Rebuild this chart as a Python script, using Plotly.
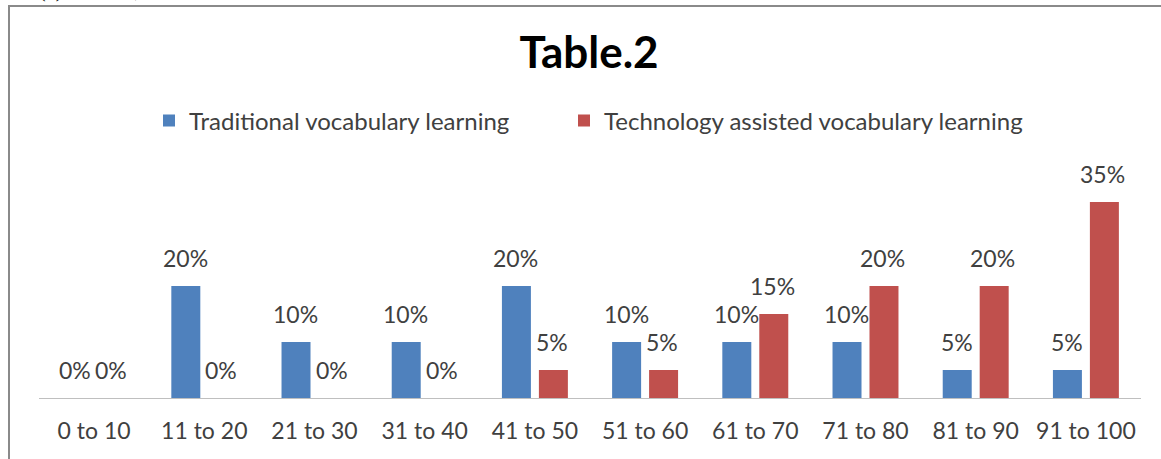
import plotly.graph_objects as go

categories = ["0 to 10", "11 to 20", "21 to 30", "31 to 40", "41 to 50",
              "51 to 60", "61 to 70", "71 to 80", "81 to 90", "91 to 100"]
traditional = [0, 20, 10, 10, 20, 10, 10, 10, 5, 5]
technology = [0, 0, 0, 0, 5, 5, 15, 20, 20, 35]
series_names = ["Traditional vocabulary learning", "Technology assisted vocabulary learning"]
title_text = "Table.2"
header_text = "12 5(7):226-232, 2020"

BLUE = "#4F81BD"
RED = "#C0504D"
TXT = "#404040"
FONT = "Lato"

W, H = 1161, 459
L, R, T, B = 39, 20, 174, 61
PW, PH = W - L - R, H - T - B

fig = go.Figure()
fig.add_trace(go.Bar(x=categories, y=traditional, name=series_names[0], legend="legend",
                     marker=dict(color=BLUE, line=dict(width=0))))
fig.add_trace(go.Bar(x=categories, y=technology, name=series_names[1], legend="legend2",
                     marker=dict(color=RED, line=dict(width=0))))

annotations = []
for c, v in zip(categories, traditional):
    annotations.append(dict(x=c, y=v, xref="x", yref="y", text=f"{v}%", showarrow=False,
                            yanchor="bottom", xanchor="center", xshift=-19, yshift=12,
                            font=dict(family=FONT, size=23, color=TXT)))
for c, v in zip(categories, technology):
    annotations.append(dict(x=c, y=v, xref="x", yref="y", text=f"{v}%", showarrow=False,
                            yanchor="bottom", xanchor="center", xshift=17, yshift=12,
                            font=dict(family=FONT, size=23, color=TXT)))

def px_x(p):
    return (p - L) / PW

def px_y(p):
    return (H - B - p) / PH

# clipped header text at the very top of the page
annotations.append(dict(x=px_x(2), y=px_y(3.5), xref="paper", yref="paper", text=header_text,
                        showarrow=False, xanchor="left", yanchor="bottom",
                        font=dict(family="Liberation Serif", size=20, color="#000000")))

legend_common = dict(orientation="h", xref="container", yref="container",
                     yanchor="middle", y=1 - 121 / H, xanchor="left",
                     font=dict(family=FONT, size=24, color=TXT),
                     bgcolor="rgba(0,0,0,0)")

fig.update_layout(
    width=W, height=H,
    margin=dict(l=L, r=R, t=T, b=B),
    paper_bgcolor="white", plot_bgcolor="white",
    barmode="group", bargap=0.329, bargroupgap=0.216,
    title=dict(text="<b>" + title_text + "</b>", x=px_x(589), xref="paper", xanchor="center",
               y=1 - 53 / H, yref="container", yanchor="middle",
               font=dict(family=FONT, size=44, color="#000000")),
    legend=dict(x=149 / W, **legend_common),
    legend2=dict(x=564 / W, **legend_common),
    xaxis=dict(showline=True, linecolor="#BFBFBF", linewidth=1, ticks="",
               tickfont=dict(family=FONT, size=23, color=TXT), ticklabelstandoff=12,
               showgrid=False, zeroline=False, fixedrange=True),
    yaxis=dict(range=[0, 40], visible=False, showgrid=False, zeroline=False),
    annotations=annotations,
    shapes=[dict(type="rect", xref="paper", yref="paper",
                 x0=px_x(9), x1=px_x(1175), y0=px_y(470), y1=px_y(6),
                 line=dict(color="#8A8A8A", width=2), fillcolor="rgba(0,0,0,0)", layer="below")],
    showlegend=True,
)

fig.write_html("out.html")
